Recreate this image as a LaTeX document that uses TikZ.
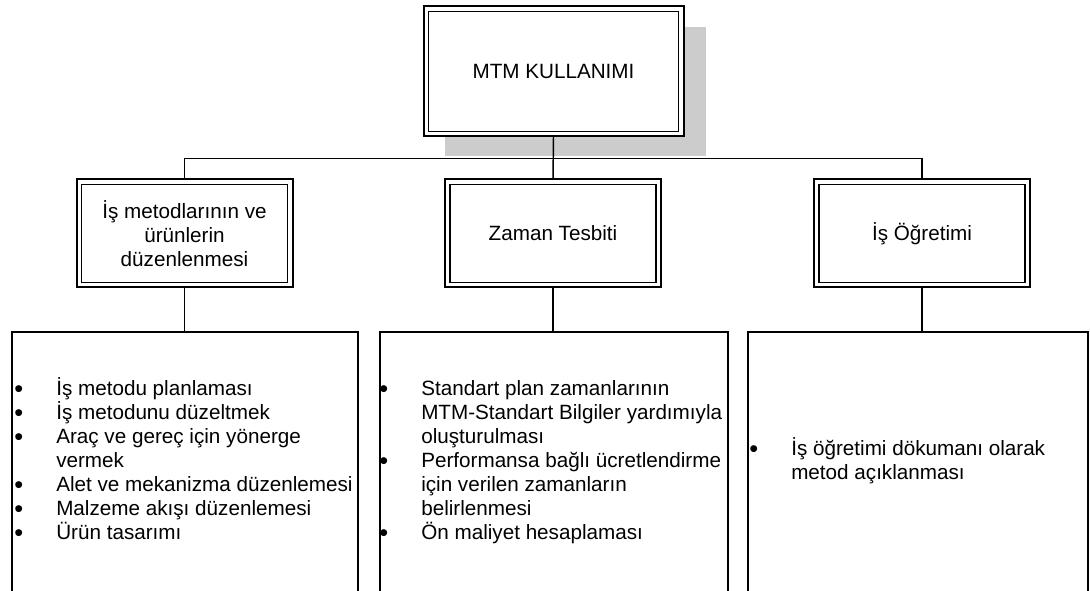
\documentclass[tikz,border=0pt]{standalone}
\usepackage{fontspec}
\setmainfont{Liberation Sans}
\usetikzlibrary{backgrounds}
% bullet and hanging indent for the list lines
\newcommand\blt{\makebox[31.5pt][l]{\raisebox{-1.2pt}{\fontsize{19}{19}\selectfont\textbullet}}}
\newcommand\hang{\hspace*{31.5pt}}
\begin{document}
\begin{tikzpicture}[x=0.75pt, y=-0.75pt,
  conn/.style={line width=1.1pt},
  % box with a heavy outer frame and a thin inner frame
  headbox/.style={draw, line width=1.5pt, fill=white, inner sep=0pt,
    outer sep=0pt, align=center, font=\fontsize{15.5}{17.8}\selectfont,
    path picture={\draw[line width=0.9pt]
        ([shift={(5,5)}]path picture bounding box.north west) rectangle
        ([shift={(-5,-5)}]path picture bounding box.south east);}},
  midsize/.style={minimum width={216*0.75pt}, minimum height={108*0.75pt}},
  listbox/.style={draw, line width=1.1pt, inner sep=0pt, outer sep=0pt,
    minimum height={259.5*0.75pt}},
  % multi-line nodes: the base anchor sits on the last line
  listtext/.style={anchor=base west, align=left, inner sep=0pt,
    font=\fontsize{15.5}{18}\selectfont},
]
\useasboundingbox (0,0) rectangle (1090,591);

% title box and the three branch boxes
\node[headbox, minimum width={260*0.75pt}, minimum height={130*0.75pt}]
  (top) at (553.5,71.5) {MTM KULLANIMI};
\node[headbox, midsize] (m1) at (184.5,233.5)
  {İş metodlarının ve\\ürünlerin\\düzenlenmesi};
\node[headbox, midsize] (m2) at (553,233.5) {Zaman Tesbiti};
\node[headbox, midsize] (m3) at (922,233.5) {İş Öğretimi};

% detail boxes (cut off at the lower edge)
\node[listbox, minimum width={346*0.75pt}] (b1) at (185,461.75) {};
\node[listbox, minimum width={348*0.75pt}] (b2) at (554,461.75) {};
\node[listbox, minimum width={340*0.75pt}] (b3) at (918,461.75) {};

% detail lists
\node[listtext] (t1) at (14,539.5)
  {\blt İş metodu planlaması\\
   \blt İş metodunu düzeltmek\\
   \blt Araç ve gereç için yönerge\\
   \hang vermek\\
   \blt Alet ve mekanizma düzenlemesi\\
   \blt Malzeme akışı düzenlemesi\\
   \blt Ürün tasarımı};
\node[listtext] (t2) at (379,539.5)
  {\blt Standart plan zamanlarının\\
   \hang MTM-Standart Bilgiler yardımıyla\\
   \hang oluşturulması\\
   \blt Performansa bağlı ücretlendirme\\
   \hang için verilen zamanların\\
   \hang belirlenmesi\\
   \blt Ön maliyet hesaplaması};
\node[listtext] (t3) at (749,479.5)
  {\blt İş öğretimi dökumanı olarak\\
   \hang metod açıklanması};

\begin{scope}[on background layer]
  % drop shadow of the title box
  \fill[black!20] ([shift={(21,21)}]top.north west)
    rectangle ([shift={(22,20)}]top.south east);
  % connectors
  \draw[conn] (top.south) -- (m2.north);
  \draw[conn] (m1.north) -- ++(0,-21) -| (m3.north);
  \draw[conn] (m1.south) -- (m1.south |- b1.north);
  \draw[conn] (m2.south) -- (m2.south |- b2.north);
  \draw[conn] (m3.south) -- (m3.south |- b3.north);
\end{scope}
\end{tikzpicture}
\end{document}
